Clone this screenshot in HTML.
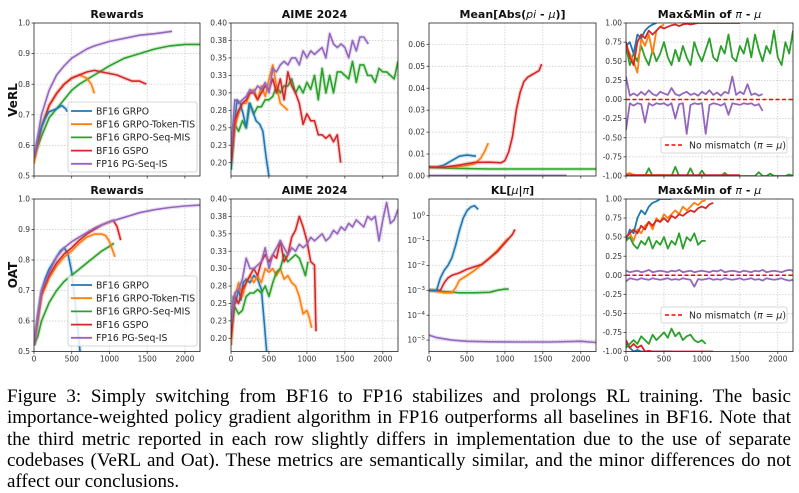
<!DOCTYPE html>
<html><head><meta charset="utf-8">
<style>
html,body{margin:0;padding:0;background:#fff;}
#wrap{position:relative;width:799px;height:493px;overflow:hidden;background:#fff;}
svg{position:absolute;left:0;top:0;}
.cap{position:absolute;left:7px;width:784px;height:22px;overflow:visible;font-family:"Liberation Serif",serif;font-size:19px;line-height:21.3px;white-space:nowrap;color:#000;}
.j{text-align:justify;text-align-last:justify;white-space:normal;}
</style></head>
<body>
<div id="wrap">
<svg id="chart" width="799" height="380" viewBox="0 0 799 380"></svg>
<div class="cap j" style="top:386px">Figure 3: Simply switching from BF16 to FP16 stabilizes and prolongs RL training. The basic</div>
<div class="cap j" style="top:407.3px">importance-weighted policy gradient algorithm in FP16 outperforms all baselines in BF16. Note that</div>
<div class="cap j" style="top:428.6px">the third metric reported in each row slightly differs in implementation due to the use of separate</div>
<div class="cap j" style="top:449.9px">codebases (VeRL and Oat). These metrics are semantically similar, and the minor differences do not</div>
<div class="cap" style="top:471.2px">affect our conclusions.</div>
</div>
<script>
// ---------- DATA ----------
const xTicks = [0, 500, 1000, 1500, 2000];
const seriesNames = ["BF16 GRPO", "BF16 GRPO-Token-TIS", "BF16 GRPO-Seq-MIS", "BF16 GSPO", "FP16 PG-Seq-IS"];
const rewardTicks = [0.5, 0.6, 0.7, 0.8, 0.9, 1.0];
const aimeTicks = [0.20, 0.225, 0.25, 0.275, 0.30, 0.325, 0.35, 0.375, 0.40];
const meanTicks = [0.00, 0.01, 0.02, 0.03, 0.04, 0.05, 0.06];
const mmTicks = [-1, -0.75, -0.5, -0.25, 0, 0.25, 0.5, 0.75, 1];
const klTickExps = [0, -1, -2, -3, -4, -5];

// Row 1 (VeRL) rewards
const vRewBlue = [[0,.56],[50,.62],[100,.66],[150,.69],[200,.71],[250,.715],[300,.72],[370,.73],[420,.72],[440,.71]];
const vRewOrange = [[0,.54],[100,.66],[200,.73],[300,.77],[400,.80],[500,.82],[600,.83],[700,.82],[760,.80],[800,.77]];
const vRewGreen = [[0,.56],[100,.63],[200,.69],[300,.72],[400,.75],[500,.78],[600,.80],[800,.83],[1000,.86],[1200,.885],[1400,.90],[1600,.915],[1800,.925],[2000,.93],[2200,.93]];
const vRewRed = [[0,.56],[100,.66],[200,.73],[300,.77],[400,.80],[500,.82],[600,.83],[700,.84],[800,.845],[900,.84],[1000,.835],[1100,.83],[1200,.82],[1300,.81],[1400,.81],[1490,.80]];
const vRewPurple = [[0,.56],[100,.70],[200,.78],[300,.83],[400,.86],[500,.885],[600,.90],[700,.915],[800,.925],[1000,.94],[1200,.95],[1400,.96],[1600,.965],[1830,.973]];
// Row 1 AIME
const vAimeBlue = [[0,.19],[40,.25],[80,.29],[120,.285],[160,.27],[200,.25],[240,.285],[280,.275],[330,.26],[380,.255],[420,.245],[460,.21],[500,.18]];
const vAimeOrange = [[0,.20],[50,.25],[100,.27],[150,.285],[200,.285],[250,.30],[300,.305],[350,.29],[400,.31],[450,.295],[500,.32],[550,.34],[600,.31],[650,.285],[700,.28],[750,.275]];
const vAimeGreen = [[0,.19],[50,.255],[100,.245],[150,.26],[200,.25],[250,.285],[300,.27],[350,.28],[400,.28],[450,.29],[500,.29],[550,.295],[600,.31],[650,.30],[700,.31],[750,.31],[800,.32],[850,.30],[900,.31],[950,.30],[1000,.315],[1050,.305],[1100,.325],[1150,.29],[1200,.335],[1250,.30],[1300,.325],[1350,.30],[1400,.33],[1450,.33],[1500,.325],[1550,.32],[1600,.345],[1650,.315],[1700,.34],[1750,.34],[1800,.325],[1850,.325],[1900,.315],[1950,.335],[2000,.33],[2050,.33],[2100,.325],[2150,.32],[2200,.345]];
const vAimeRed = [[0,.20],[50,.26],[100,.275],[150,.285],[200,.29],[250,.30],[300,.30],[350,.29],[400,.30],[450,.31],[500,.305],[550,.32],[600,.30],[650,.32],[700,.29],[750,.33],[800,.31],[850,.30],[900,.285],[950,.255],[1000,.27],[1050,.26],[1100,.26],[1150,.24],[1200,.24],[1250,.235],[1300,.24],[1350,.23],[1400,.24],[1445,.20]];
const vAimePurple = [[0,.22],[50,.29],[100,.285],[150,.29],[200,.295],[250,.305],[300,.30],[350,.31],[400,.305],[450,.315],[500,.30],[550,.335],[600,.33],[650,.34],[700,.345],[750,.34],[800,.35],[850,.35],[900,.34],[950,.36],[1000,.35],[1050,.36],[1100,.355],[1150,.36],[1200,.365],[1250,.35],[1300,.385],[1350,.37],[1400,.365],[1450,.37],[1500,.365],[1550,.35],[1600,.375],[1650,.36],[1700,.38],[1750,.38],[1809,.37]];
// Row 1 Mean abs
const vMeanBlue = [[0,.004],[100,.004],[200,.005],[300,.007],[400,.009],[500,.0095],[620,.009]];
const vMeanOrange = [[0,.004],[300,.004],[500,.0048],[600,.0055],[680,.008],[730,.011],[781,.015]];
const vMeanGreen = [[0,.004],[300,.0035],[800,.0032],[1500,.0032],[2200,.0032]];
const vMeanRed = [[0,.004],[200,.004],[400,.005],[600,.0062],[800,.0063],[950,.006],[1000,.007],[1050,.011],[1100,.018],[1150,.030],[1200,.038],[1250,.043],[1300,.045],[1350,.046],[1400,.047],[1450,.048],[1484,.051]];
const vMeanPurple = [[0,.0002],[1000,.0002],[1813,.0002]];
// Row 1 max/min (sampled every 50 steps)
const vMaxBlue = [0.7,0.75,0.6,0.85,0.8,0.9,0.95,0.98,1.0];
const vMaxOrange = [0.7,0.6,0.5,0.35,0.8,0.7,0.85,0.6,0.9,0.95,0.98];
const vMaxRed = [0.75,0.55,0.45,0.75,0.85,0.8,0.9,0.85,0.9,0.95,0.93,0.95,0.97,0.98,0.96,0.98,0.99,0.98,0.99,1,1,1,1,1,1,1,1,1,1,1,1];
const vMaxGreen = [0.7,0.45,0.6,0.5,0.7,0.55,0.45,0.65,0.5,0.6,0.75,0.55,0.45,0.65,0.5,0.7,0.55,0.45,0.75,0.6,0.5,0.65,0.8,0.55,0.5,0.7,0.6,0.85,0.55,0.5,0.7,0.6,0.8,0.55,0.85,0.65,0.5,0.7,0.6,0.9,0.55,0.45,0.75,0.6,0.9];
const vMaxPurple = [0.3,0.05,0.08,0.05,0.1,0.06,0.12,0.07,0.05,0.1,0.08,0.06,0.15,0.07,0.05,0.08,0.1,0.06,0.08,0.05,0.1,0.07,0.12,0.06,0.09,0.05,0.1,0.08,0.3,0.06,0.1,0.07,0.2,0.06,0.08,0.05,0.07];
const vMinPurple = [-0.4,-0.05,-0.08,-0.05,-0.06,-0.3,-0.05,-0.08,-0.05,-0.06,-0.05,-0.08,-0.05,-0.25,-0.06,-0.05,-0.45,-0.07,-0.05,-0.06,-0.05,-0.45,-0.07,-0.05,-0.06,-0.08,-0.05,-0.2,-0.05,-0.06,-0.07,-0.05,-0.06,-0.05,-0.08,-0.06,-0.15];
const vMinGreen = [-1,-1,-0.98,-1,-1,-1,-0.9,-1,-1,-1,-1,-1,-1,-0.88,-1,-1,-1,-0.9,-1,-1,-0.93,-1,-1,-1,-1,-1,-0.96,-1,-1,-1,-1,-1,-1,-1,-1,-0.95,-1,-1,-0.97,-1,-1,-1,-1,-0.98,-1];
const vMinRed = [-0.99,-0.99,-0.99,-0.99,-0.99,-0.99,-0.99,-0.99,-0.99,-0.99,-0.99,-0.99,-0.99,-0.99,-0.99,-0.99,-0.99,-0.99,-0.99,-0.99,-0.99,-0.99,-0.99,-0.99,-0.99,-0.99,-0.99,-0.99,-0.99,-0.99,-0.99];
const vMinOrange = [-0.98,-0.96,-0.99,-0.99,-0.99,-0.99,-0.99,-0.99,-0.99,-0.99,-0.99];

// Row 2 (OAT) rewards
const oRewBlue = [[0,.52],[50,.62],[100,.70],[150,.74],[200,.77],[250,.79],[300,.81],[350,.83],[400,.84],[450,.82],[500,.76],[550,.65],[610,.5]];
const oRewOrange = [[0,.52],[100,.68],[200,.74],[300,.78],[400,.81],[500,.83],[600,.855],[700,.875],[800,.885],[900,.885],[950,.88],[1000,.86],[1073,.81]];
const oRewGreen = [[0,.52],[50,.55],[100,.60],[200,.66],[300,.70],[400,.73],[500,.75],[600,.77],[700,.79],[800,.81],[900,.83],[1000,.845],[1060,.855]];
const oRewRed = [[0,.52],[100,.69],[200,.75],[300,.79],[400,.82],[500,.84],[600,.865],[700,.885],[800,.90],[900,.915],[1000,.925],[1050,.93],[1100,.91],[1149,.865]];
const oRewPurple = [[0,.52],[100,.70],[200,.76],[300,.81],[400,.84],[500,.86],[600,.875],[700,.89],[800,.905],[900,.915],[1000,.925],[1200,.94],[1400,.955],[1600,.965],[1800,.972],[2000,.977],[2200,.98]];
// Row 2 AIME
const oAimeBlue = [[0,.19],[30,.26],[60,.25],[100,.27],[130,.255],[160,.28],[200,.285],[250,.28],[300,.29],[350,.285],[400,.27],[440,.22],[470,.18]];
const oAimeOrange = [[0,.19],[50,.26],[100,.28],[150,.26],[200,.28],[250,.29],[300,.28],[350,.29],[400,.28],[450,.30],[500,.295],[550,.30],[600,.29],[650,.30],[700,.285],[750,.29],[800,.28],[850,.275],[900,.26],[950,.235],[1000,.24],[1030,.23],[1063,.215]];
const oAimeGreen = [[0,.21],[50,.245],[100,.235],[150,.24],[200,.26],[250,.265],[300,.265],[350,.27],[400,.265],[450,.275],[500,.26],[550,.28],[600,.295],[650,.30],[700,.32],[750,.31],[800,.315],[850,.32],[900,.315],[950,.30],[980,.29],[1015,.31]];
const oAimeRed = [[0,.20],[50,.26],[100,.25],[150,.27],[200,.28],[250,.29],[300,.30],[350,.29],[400,.31],[450,.32],[500,.31],[550,.32],[600,.315],[650,.34],[700,.31],[750,.32],[800,.345],[850,.355],[900,.375],[950,.36],[1000,.34],[1050,.31],[1100,.305],[1120,.21]];
const oAimePurple = [[0,.22],[50,.265],[100,.27],[150,.285],[200,.315],[250,.30],[300,.30],[350,.305],[400,.31],[450,.33],[500,.30],[550,.32],[600,.33],[650,.34],[700,.33],[750,.32],[800,.33],[850,.325],[900,.335],[950,.33],[1000,.335],[1050,.345],[1100,.34],[1150,.345],[1200,.35],[1250,.34],[1300,.345],[1350,.355],[1400,.35],[1450,.36],[1500,.355],[1550,.365],[1600,.36],[1650,.37],[1700,.365],[1750,.36],[1800,.375],[1850,.37],[1900,.375],[1950,.34],[2000,.37],[2050,.395],[2100,.365],[2150,.37],[2200,.385]];
// Row 2 KL (log10 values)
const oKlBlue = [[0,-3],[50,-3],[100,-3],[150,-2.5],[200,-2.2],[250,-2.0],[300,-1.7],[350,-1.2],[400,-0.6],[450,-0.1],[500,0.2],[550,0.35],[600,0.4],[650,0.25]];
const oKlOrange = [[0,-3],[100,-3.05],[200,-3.1],[300,-3.1],[350,-2.9],[400,-2.6],[500,-2.4],[600,-2.2],[700,-1.95],[800,-1.7],[900,-1.4],[1000,-1.05],[1050,-0.9]];
const oKlGreen = [[0,-3],[200,-3.05],[400,-3.1],[600,-3.1],[800,-3.08],[900,-3.0],[1000,-2.95],[1050,-2.95]];
const oKlRed = [[0,-3],[100,-3],[150,-3.0],[200,-2.7],[250,-2.5],[300,-2.4],[400,-2.3],[500,-2.15],[600,-2.05],[700,-1.95],[800,-1.7],[900,-1.45],[1000,-1.1],[1100,-0.75],[1133,-0.55]];
const oKlPurple = [[0,-4.8],[100,-4.9],[300,-5.0],[500,-5.05],[800,-5.07],[1200,-5.08],[1600,-5.08],[2000,-5.05],[2200,-5.1]];
// Row 2 max/min (every 50 steps)
const oMaxBlue = [0.45,0.6,0.55,0.75,0.85,0.8,0.9,0.95,0.97,1,1,1,1];
const oMaxOrange = [0.5,0.55,0.45,0.6,0.55,0.65,0.7,0.6,0.75,0.7,0.8,0.75,0.8,0.85,0.8,0.9,0.85,0.9,0.95,0.92,0.97,0.98];
const oMaxRed = [0.5,0.55,0.6,0.55,0.65,0.6,0.7,0.65,0.72,0.7,0.75,0.7,0.78,0.75,0.8,0.78,0.82,0.85,0.83,0.88,0.9,0.88,0.93,0.95];
const oMaxGreen = [0.45,0.5,0.4,0.35,0.45,0.4,0.5,0.35,0.45,0.4,0.5,0.35,0.45,0.4,0.55,0.35,0.5,0.45,0.55,0.4,0.45,0.45];
const oMaxPurple = [0.06,0.04,0.05,0.06,0.04,0.05,0.07,0.04,0.05,0.06,0.05,0.04,0.06,0.05,0.07,0.04,0.05,0.06,0.04,0.05,0.06,0.05,0.04,0.06,0.05,0.07,0.04,0.05,0.06,0.05,0.04,0.06,0.05,0.04,0.06,0.05,0.07,0.04,0.05,0.06,0.05,0.04,0.06,0.07,0.06];
const oMinPurple = [-0.08,-0.04,-0.05,-0.06,-0.04,-0.05,-0.06,-0.04,-0.05,-0.06,-0.05,-0.04,-0.06,-0.05,-0.06,-0.04,-0.05,-0.06,-0.15,-0.05,-0.06,-0.05,-0.04,-0.06,-0.05,-0.06,-0.04,-0.05,-0.06,-0.05,-0.04,-0.06,-0.05,-0.04,-0.06,-0.05,-0.07,-0.04,-0.05,-0.06,-0.05,-0.04,-0.06,-0.07,-0.06];
const oMinGreen = [-0.95,-0.9,-0.85,-0.9,-0.8,-0.85,-0.9,-0.78,-0.85,-0.8,-0.75,-0.82,-0.7,-0.8,-0.75,-0.85,-0.8,-0.78,-0.85,-0.88,-0.85,-0.9];
const oMinRed = [-0.85,-0.95,-0.9,-0.95,-0.92,-1,-0.99,-1,-1,-1,-1,-1,-1,-1,-1,-1,-1,-1,-1,-1,-1,-1,-1,-1];
const oMinBlue = [-0.9,-0.95,-1,-0.98,-1,-1,-1,-1,-1,-1,-1,-1,-1];

// ---------- DRAWING ----------
const NS = "http://www.w3.org/2000/svg";
const svg = document.getElementById('chart');
const COL = {blue:"#1f77b4", orange:"#ff7f0e", green:"#2ca02c", red:"#d62728", purple:"#9467bd"};
function mk(tag, attrs, parent){ const e=document.createElementNS(NS,tag); for(const k in attrs) e.setAttribute(k,attrs[k]); (parent||svg).appendChild(e); return e; }
function mkAxis(L,R,T,B,ymin,ymax){ return {L,R,T,B,ymin,ymax, x:v=>L+(v/2200)*(R-L), y:v=>B-(v-ymin)/(ymax-ymin)*(B-T)}; }
function pairsLine(ax, data, color, name, g){
  const pts=data.map(d=>ax.x(d[0]).toFixed(1)+","+ax.y(d[1]).toFixed(1)).join(" ");
  const bg=mk('polyline',{points:pts,fill:"none",stroke:color,"stroke-width":4,"stroke-opacity":0.2,"stroke-linejoin":"round"},g);
  
  
  const p=mk('polyline',{points:pts,fill:"none",stroke:color,"stroke-width":1.6,"stroke-linejoin":"round"},g);
  
  
}
function stepLine(ax, vals, color, name, g){
  const pts=vals.map((v,i)=>ax.x(i*50).toFixed(1)+","+ax.y(v).toFixed(1)).join(" ");
  const p=mk('polyline',{points:pts,fill:"none",stroke:color,"stroke-width":1.8,"stroke-linejoin":"round"},g);
  
  
}
function panel(id, ax, title, yTicks, yFmt, showX){
  const g=mk('g',{});
  
  
  mk('rect',{x:ax.L,y:ax.T,width:ax.R-ax.L,height:ax.B-ax.T,fill:"#fff"},g);
  const cp=mk('clipPath',{id:id+"-clip"},g); mk('rect',{x:ax.L,y:ax.T,width:ax.R-ax.L,height:ax.B-ax.T},cp);
  xTicks.forEach(t=>{
    const X=ax.x(t);
    if(t>0) mk('line',{x1:X,x2:X,y1:ax.T,y2:ax.B,stroke:"#c8c8c8","stroke-width":0.7,"stroke-dasharray":"1.5,1.5"},g);
    mk('line',{x1:X,x2:X,y1:ax.B,y2:ax.B+2.5,stroke:"#222","stroke-width":0.7},g);
    if(showX){ const tx=mk('text',{x:X,y:ax.B+10,"text-anchor":"middle","font-size":7.5,fill:"#333","font-family":"DejaVu Sans, sans-serif"},g); tx.textContent=t;
      
       }
  });
  yTicks.forEach(t=>{
    const Y=ax.y(t);
    if(Y>ax.T+0.5 && Y<ax.B-0.5) mk('line',{x1:ax.L,x2:ax.R,y1:Y,y2:Y,stroke:"#c8c8c8","stroke-width":0.7,"stroke-dasharray":"1.5,1.5"},g);
    mk('line',{x1:ax.L-2.5,x2:ax.L,y1:Y,y2:Y,stroke:"#222","stroke-width":0.7},g);
    const tx=mk('text',{x:ax.L-4,y:Y+2.6,"text-anchor":"end","font-size":7.5,fill:"#333","font-family":"DejaVu Sans, sans-serif"},g);
    yFmt(tx,t);
    
    
  });
  const tt=mk('text',{x:(ax.L+ax.R)/2,y:ax.T-5,"text-anchor":"middle","font-size":11,"font-weight":"bold",fill:"#111","font-family":"DejaVu Sans, sans-serif"},g);
  tt.innerHTML=title;
  
  
  const plot=mk('g',{"clip-path":"url(#"+id+"-clip)"},g);
  const fr=mk('rect',{x:ax.L,y:ax.T,width:ax.R-ax.L,height:ax.B-ax.T,fill:"none",stroke:"#222","stroke-width":0.8},g);
  
  
  return {g, plot, frame:fr};
}
const f1=(e,t)=>e.textContent=t.toFixed(1);
const f2=(e,t)=>e.textContent=t.toFixed(2);
const fkl=(e,t)=>{ e.innerHTML="10<tspan dy='-3' font-size='5.5'>"+(t===0?"0":"\u2212"+(-t))+"</tspan>"; };

function legend(g, x, y, w){
  const box=mk('rect',{x:x,y:y,width:w,height:70,rx:2,fill:"#fff","fill-opacity":0.85,stroke:"#ccc","stroke-width":0.8},g);
  
  
  const cols=[COL.blue,COL.orange,COL.green,COL.red,COL.purple];
  seriesNames.forEach((n,i)=>{
    const cy=y+9+i*13.2;
    mk('line',{x1:x+3,x2:x+24,y1:cy,y2:cy,stroke:cols[i],"stroke-width":1.8},g);
    const t=mk('text',{x:x+28,y:cy+3.3,"font-size":9.3,fill:"#222","font-family":"DejaVu Sans, sans-serif"},g);
    t.textContent=n;
    
    
  });
}
function mmLegend(g, x, y){
  const box=mk('rect',{x:x,y:y,width:126,height:16,rx:2,fill:"#fff","fill-opacity":0.85,stroke:"#ccc","stroke-width":0.8},g);
  
  
  mk('line',{x1:x+4,x2:x+22,y1:y+8,y2:y+8,stroke:"#ff0000","stroke-width":1.6,"stroke-dasharray":"4,2.5"},g);
  const t=mk('text',{x:x+28,y:y+11.3,"font-size":9.3,fill:"#222","font-family":"DejaVu Sans, sans-serif"},g);
  t.innerHTML="No mismatch (<tspan font-style='italic'>\u03c0</tspan> = <tspan font-style='italic'>\u03bc</tspan>)";
  
  
}
function zeroLine(ax,g){
  const l=mk('line',{x1:ax.L,x2:ax.R,y1:ax.y(0),y2:ax.y(0),stroke:"#ff0000","stroke-width":1.6,"stroke-dasharray":"4,2.5"},g);
  
  
}

const rows=[{T:23,B:176},{T:199,B:351.5}];
const cols=[[34,200],[231,398],[429,596],[626,793]];

// Row 1
let ax=mkAxis(cols[0][0],cols[0][1],rows[0].T,rows[0].B,0.5,1.0);
let P=panel('verl-rewards',ax,'Rewards',rewardTicks,f1,false);
pairsLine(ax,vRewGreen,COL.green,'verl-rewards-grpo-seq-mis',P.plot);
pairsLine(ax,vRewOrange,COL.orange,'verl-rewards-grpo-token-tis',P.plot);
pairsLine(ax,vRewRed,COL.red,'verl-rewards-gspo',P.plot);
pairsLine(ax,vRewBlue,COL.blue,'verl-rewards-grpo',P.plot);
pairsLine(ax,vRewPurple,COL.purple,'verl-rewards-fp16',P.plot);
legend(P.g,68,102,129);

ax=mkAxis(cols[1][0],cols[1][1],rows[0].T,rows[0].B,0.181,0.40);
P=panel('verl-aime',ax,'AIME 2024',aimeTicks,f2,false);
pairsLine(ax,vAimeGreen,COL.green,'verl-aime-grpo-seq-mis',P.plot);
pairsLine(ax,vAimeOrange,COL.orange,'verl-aime-grpo-token-tis',P.plot);
pairsLine(ax,vAimeBlue,COL.blue,'verl-aime-grpo',P.plot);
pairsLine(ax,vAimeRed,COL.red,'verl-aime-gspo',P.plot);
pairsLine(ax,vAimePurple,COL.purple,'verl-aime-fp16',P.plot);

ax=mkAxis(cols[2][0],cols[2][1],rows[0].T,rows[0].B,0,0.0697);
P=panel('verl-mean-abs',ax,"Mean[Abs(<tspan font-style='italic' font-weight='normal'>pi</tspan> - <tspan font-style='italic' font-weight='normal'>\u03bc</tspan>)]",meanTicks,f2,false);
pairsLine(ax,vMeanGreen,COL.green,'verl-mean-grpo-seq-mis',P.plot);
pairsLine(ax,vMeanPurple,COL.purple,'verl-mean-fp16',P.plot);
pairsLine(ax,vMeanBlue,COL.blue,'verl-mean-grpo',P.plot);
pairsLine(ax,vMeanOrange,COL.orange,'verl-mean-grpo-token-tis',P.plot);
pairsLine(ax,vMeanRed,COL.red,'verl-mean-gspo',P.plot);

ax=mkAxis(cols[3][0],cols[3][1],rows[0].T,rows[0].B,-1,1);
P=panel('verl-maxmin',ax,"Max&amp;Min of <tspan font-style='italic' font-weight='normal'>\u03c0</tspan> - <tspan font-style='italic' font-weight='normal'>\u03bc</tspan>",mmTicks,f2,false);
stepLine(ax,vMaxGreen,COL.green,'verl-max-grpo-seq-mis',P.plot);
stepLine(ax,vMinGreen,COL.green,'verl-min-grpo-seq-mis',P.plot);
stepLine(ax,vMaxOrange,COL.orange,'verl-max-grpo-token-tis',P.plot);
stepLine(ax,vMinOrange,COL.orange,'verl-min-grpo-token-tis',P.plot);
stepLine(ax,vMaxBlue,COL.blue,'verl-max-grpo',P.plot);
stepLine(ax,vMaxRed,COL.red,'verl-max-gspo',P.plot);
stepLine(ax,vMinRed,COL.red,'verl-min-gspo',P.plot);
stepLine(ax,vMaxPurple,COL.purple,'verl-max-fp16',P.plot);
stepLine(ax,vMinPurple,COL.purple,'verl-min-fp16',P.plot);
zeroLine(ax,P.plot);
mmLegend(P.g,661,137);

// Row 2
ax=mkAxis(cols[0][0],cols[0][1],rows[1].T,rows[1].B,0.5,1.0);
P=panel('oat-rewards',ax,'Rewards',rewardTicks,f1,true);
pairsLine(ax,oRewBlue,COL.blue,'oat-rewards-grpo',P.plot);
pairsLine(ax,oRewGreen,COL.green,'oat-rewards-grpo-seq-mis',P.plot);
pairsLine(ax,oRewOrange,COL.orange,'oat-rewards-grpo-token-tis',P.plot);
pairsLine(ax,oRewRed,COL.red,'oat-rewards-gspo',P.plot);
pairsLine(ax,oRewPurple,COL.purple,'oat-rewards-fp16',P.plot);
legend(P.g,68,276,129);

ax=mkAxis(cols[1][0],cols[1][1],rows[1].T,rows[1].B,0.181,0.40);
P=panel('oat-aime',ax,'AIME 2024',aimeTicks,f2,true);
pairsLine(ax,oAimeBlue,COL.blue,'oat-aime-grpo',P.plot);
pairsLine(ax,oAimeOrange,COL.orange,'oat-aime-grpo-token-tis',P.plot);
pairsLine(ax,oAimeGreen,COL.green,'oat-aime-grpo-seq-mis',P.plot);
pairsLine(ax,oAimeRed,COL.red,'oat-aime-gspo',P.plot);
pairsLine(ax,oAimePurple,COL.purple,'oat-aime-fp16',P.plot);

ax=mkAxis(cols[2][0],cols[2][1],rows[1].T,rows[1].B,-5.46,0.67);
P=panel('oat-kl',ax,"KL[<tspan font-style='italic' font-weight='normal'>\u03bc</tspan>|<tspan font-style='italic' font-weight='normal'>\u03c0</tspan>]",klTickExps,fkl,true);
pairsLine(ax,oKlPurple,COL.purple,'oat-kl-fp16',P.plot);
pairsLine(ax,oKlGreen,COL.green,'oat-kl-grpo-seq-mis',P.plot);
pairsLine(ax,oKlOrange,COL.orange,'oat-kl-grpo-token-tis',P.plot);
pairsLine(ax,oKlRed,COL.red,'oat-kl-gspo',P.plot);
pairsLine(ax,oKlBlue,COL.blue,'oat-kl-grpo',P.plot);

ax=mkAxis(cols[3][0],cols[3][1],rows[1].T,rows[1].B,-1,1);
P=panel('oat-maxmin',ax,"Max&amp;Min of <tspan font-style='italic' font-weight='normal'>\u03c0</tspan> - <tspan font-style='italic' font-weight='normal'>\u03bc</tspan>",mmTicks,f2,true);
stepLine(ax,oMaxBlue,COL.blue,'oat-max-grpo',P.plot);
stepLine(ax,oMinBlue,COL.blue,'oat-min-grpo',P.plot);
stepLine(ax,oMaxOrange,COL.orange,'oat-max-grpo-token-tis',P.plot);
stepLine(ax,oMaxRed,COL.red,'oat-max-gspo',P.plot);
stepLine(ax,oMinRed,COL.red,'oat-min-gspo',P.plot);
stepLine(ax,oMaxGreen,COL.green,'oat-max-grpo-seq-mis',P.plot);
stepLine(ax,oMinGreen,COL.green,'oat-min-grpo-seq-mis',P.plot);
stepLine(ax,oMaxPurple,COL.purple,'oat-max-fp16',P.plot);
stepLine(ax,oMinPurple,COL.purple,'oat-min-fp16',P.plot);
zeroLine(ax,P.plot);
mmLegend(P.g,661,307);

// Row labels
const r1=mk('text',{x:0,y:0,transform:"translate(17,100) rotate(-90)","text-anchor":"middle","font-size":12,"font-weight":"bold",fill:"#111","font-family":"DejaVu Sans, sans-serif"});
r1.textContent="VeRL";


const r2=mk('text',{x:0,y:0,transform:"translate(17,275) rotate(-90)","text-anchor":"middle","font-size":12,"font-weight":"bold",fill:"#111","font-family":"DejaVu Sans, sans-serif"});
r2.textContent="OAT";


</script>
</body></html>
